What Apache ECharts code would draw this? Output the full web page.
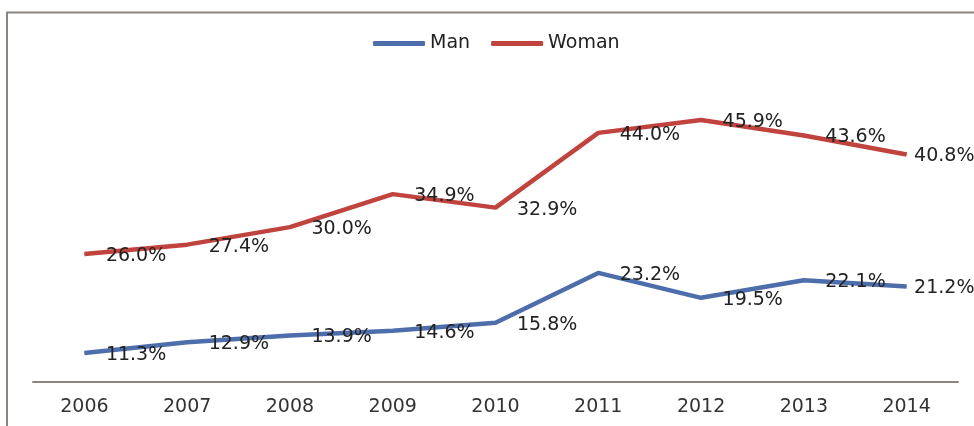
<!DOCTYPE html>
<html>
<head>
<meta charset="utf-8">
<script src="https://cdn.jsdelivr.net/npm/echarts@6/dist/echarts.min.js"></script>
<style>
  html, body { margin: 0; padding: 0; background: #ffffff; }
  #chart { width: 974px; height: 426px; }
</style>
</head>
<body>
<div id="chart"></div>
<script>
// Share (%) by year for each group
const years = ['2006', '2007', '2008', '2009', '2010', '2011', '2012', '2013', '2014'];
const manValues = [11.3, 12.9, 13.9, 14.6, 15.8, 23.2, 19.5, 22.1, 21.2];
const womanValues = [26.0, 27.4, 30.0, 34.9, 32.9, 44.0, 45.9, 43.6, 40.8];

const manColor = '#4e6eab';
const womanColor = '#c0433e';
const textFont = 'DejaVu Sans';

// Last point's label sits closer to its point so it stays inside the frame
function withLabels(values) {
  return values.map((v, i) => i === values.length - 1
    ? { value: v, label: { distance: 7 } }
    : v);
}

function lineSeries(name, values, color) {
  return {
    name: name,
    type: 'line',
    data: withLabels(values),
    symbol: 'circle',
    symbolSize: 1,
    itemStyle: { color: color },
    lineStyle: { color: color, width: 4.5 },
    label: {
      show: true,
      position: 'right',
      distance: 21,
      offset: [0, 2],
      formatter: p => p.value.toFixed(1) + '%',
      color: '#222222',
      fontFamily: textFont,
      fontSize: 19
    },
    emphasis: { disabled: true },
    animation: false
  };
}

const chart = echarts.init(document.getElementById('chart'), null, { renderer: 'canvas' });
chart.setOption({
  backgroundColor: '#ffffff',
  animation: false,
  graphic: [{
    type: 'rect',
    shape: { x: 7, y: 12.5, width: 1000, height: 500 },
    style: { fill: 'none', stroke: '#8b8580', lineWidth: 2 },
    silent: true,
    z: 0
  }],
  legend: {
    left: 368,
    top: 29,
    itemWidth: 52,
    itemHeight: 5,
    itemGap: 21,
    icon: 'roundRect',
    textStyle: { fontFamily: textFont, fontSize: 19, color: '#222222' },
    data: ['Man', 'Woman']
  },
  grid: { left: 33, right: 16, top: 79, bottom: 44, containLabel: false },
  xAxis: {
    type: 'category',
    data: years,
    boundaryGap: true,
    axisLine: { show: true, lineStyle: { color: '#8b8580', width: 2 } },
    axisTick: { show: false },
    axisLabel: {
      margin: 16,
      fontFamily: textFont,
      fontSize: 19,
      color: '#333333'
    }
  },
  yAxis: {
    type: 'value',
    min: 7,
    max: 52,
    show: false,
    splitLine: { show: false }
  },
  series: [
    lineSeries('Man', manValues, manColor),
    lineSeries('Woman', womanValues, womanColor)
  ]
});
</script>
</body>
</html>
